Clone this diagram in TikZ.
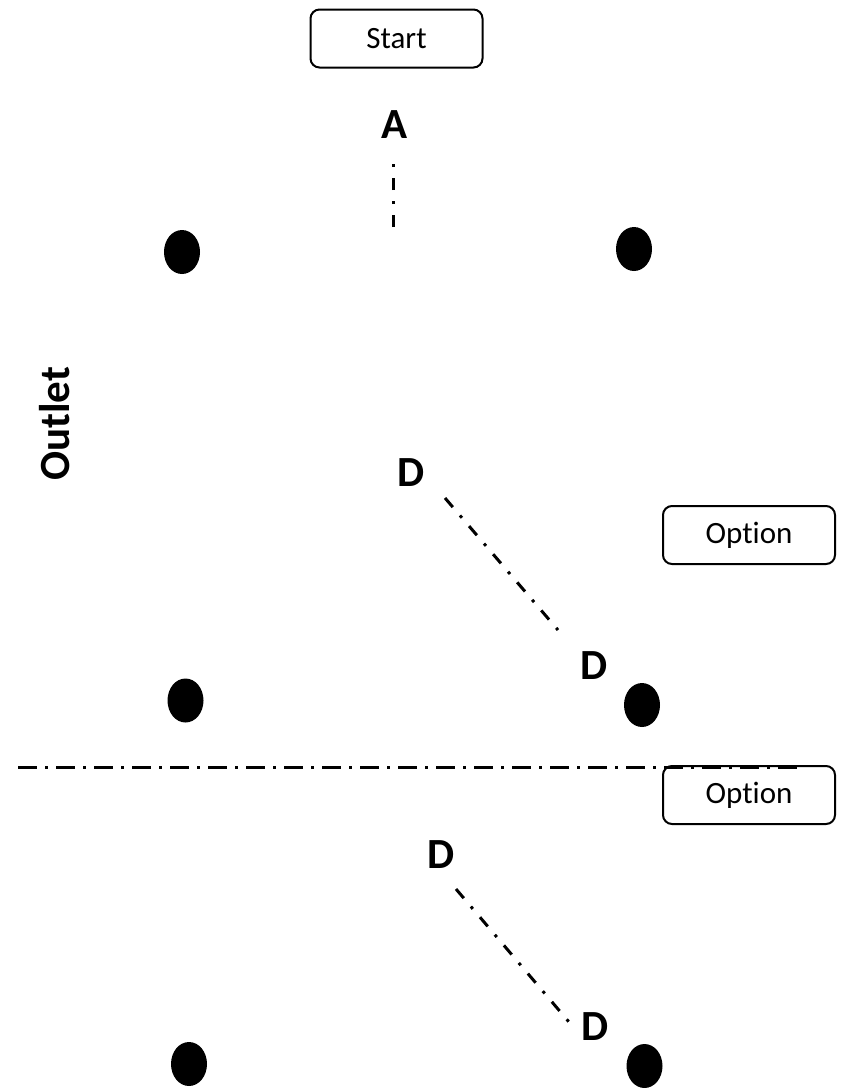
\documentclass[tikz,border=0pt]{standalone}
\usepackage{fontspec}
\setmainfont[Ligatures=NoCommon]{Carlito}
\usetikzlibrary{shapes.geometric}
\begin{document}
\begin{tikzpicture}[x=1pt,y=-1pt,
  boxnode/.style={draw,line width=2pt,rounded corners=9pt,fill=white,
    minimum width=172pt,minimum height=58pt,inner sep=0pt,
    font=\fontsize{31}{36}\selectfont},
  lbl/.style={inner sep=0pt,font=\fontsize{43}{48}\selectfont\bfseries},
  pin/.style={ellipse,fill=black,draw=none,minimum width=36pt,minimum height=44pt,inner sep=0pt},
  dashdot/.style={line width=3pt,dash pattern=on 12pt off 11pt on 3pt off 11pt},
  longdashdot/.style={line width=3pt,dash pattern=on 19pt off 8pt on 3pt off 8pt}]
\useasboundingbox (0,0) rectangle (847,1088);

% boxes
\node[boxnode] (start) at (396.5,38.5) {Start};
\node[boxnode] (opt1) at (749,535) {Option};
\node[boxnode] (opt2) at (749,795) {Option};

% labels
\node[lbl] (a) at (395,125) {A};
\node[lbl] (d1) at (411,473) {D};
\node[lbl] (d2) at (594,666) {D};
\node[lbl] (d3) at (441,855) {D};
\node[lbl] (d4) at (595,1027) {D};
\node[lbl,rotate=90] (outlet) at (55,424) {Outlet};

% pins
\node[pin] (p1) at (182,252) {};
\node[pin] (p2) at (634,249) {};
\node[pin] (p3) at (185.5,700.5) {};
\node[pin] (p4) at (642,705) {};
\node[pin] (p5) at (189,1064) {};
\node[pin] (p6) at (644.5,1066) {};

% line ends
\coordinate (v0) at (393,227);
\coordinate (v1) at (393,161);
\coordinate (s0) at (445,498);
\coordinate (s1) at (558,630);
\coordinate (t0) at (456,889);
\coordinate (t1) at (569,1022);
\coordinate (h0) at (18,767);
\coordinate (h1) at (800,767);

% dash-dot lines
\draw[dashdot] (v0) -- (v1);
\draw[dashdot] (s0) -- (s1);
\draw[dashdot] (t0) -- (t1);
\draw[longdashdot] (h0) -- (h1);
\end{tikzpicture}
\end{document}
